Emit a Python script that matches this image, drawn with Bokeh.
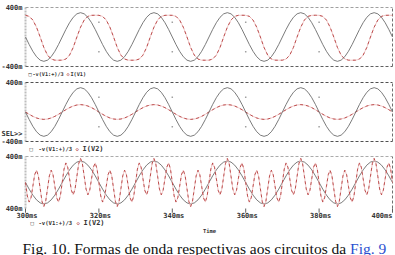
from bokeh.plotting import figure
from bokeh.models import Range1d, Label
from bokeh.embed import file_html
from bokeh.resources import INLINE
from bokeh.core.properties import value

W, H = 395, 255

# ---------------- data ----------------
t_ms = list(range(300, 401))                 # 1 ms sampling
t3_ms = [300 + 0.5 * j for j in range(201)]  # 0.5 ms sampling (panel 3 current)

v1_over3 = [  # -v(V1:+)/3, same in all three panels
    0, -0.102, -0.194, -0.267, -0.314, -0.330, -0.314, -0.267, -0.194, -0.102, 0, 0.102, 0.194, 0.267, 0.314, 0.330, 0.314, 0.267, 0.194, 0.102,
    0, -0.102, -0.194, -0.267, -0.314, -0.330, -0.314, -0.267, -0.194, -0.102, 0, 0.102, 0.194, 0.267, 0.314, 0.330, 0.314, 0.267, 0.194, 0.102,
    0, -0.102, -0.194, -0.267, -0.314, -0.330, -0.314, -0.267, -0.194, -0.102, 0, 0.102, 0.194, 0.267, 0.314, 0.330, 0.314, 0.267, 0.194, 0.102,
    0, -0.102, -0.194, -0.267, -0.314, -0.330, -0.314, -0.267, -0.194, -0.102, 0, 0.102, 0.194, 0.267, 0.314, 0.330, 0.314, 0.267, 0.194, 0.102,
    0, -0.102, -0.194, -0.267, -0.314, -0.330, -0.314, -0.267, -0.194, -0.102, 0, 0.102, 0.194, 0.267, 0.314, 0.330, 0.314, 0.267, 0.194, 0.102,
    0,
]

i_v1 = [  # I(V1), panel 1
    0.294, 0.280, 0.230, 0.133, 0, -0.142, -0.246, -0.299, -0.314, -0.315, -0.314, -0.299, -0.246, -0.142, 0, 0.133, 0.230, 0.280, 0.294, 0.295,
    0.294, 0.280, 0.230, 0.133, 0, -0.142, -0.246, -0.299, -0.314, -0.315, -0.314, -0.299, -0.246, -0.142, 0, 0.133, 0.230, 0.280, 0.294, 0.295,
    0.294, 0.280, 0.230, 0.133, 0, -0.142, -0.246, -0.299, -0.314, -0.315, -0.314, -0.299, -0.246, -0.142, 0, 0.133, 0.230, 0.280, 0.294, 0.295,
    0.294, 0.280, 0.230, 0.133, 0, -0.142, -0.246, -0.299, -0.314, -0.315, -0.314, -0.299, -0.246, -0.142, 0, 0.133, 0.230, 0.280, 0.294, 0.295,
    0.294, 0.280, 0.230, 0.133, 0, -0.142, -0.246, -0.299, -0.314, -0.315, -0.314, -0.299, -0.246, -0.142, 0, 0.133, 0.230, 0.280, 0.294, 0.295,
    0.294,
]

i_v2_p2 = [  # I(V2), panel 2
    0, -0.031, -0.059, -0.081, -0.095, -0.100, -0.095, -0.081, -0.059, -0.031, 0, 0.031, 0.059, 0.081, 0.095, 0.100, 0.095, 0.081, 0.059, 0.031,
    0, -0.031, -0.059, -0.081, -0.095, -0.100, -0.095, -0.081, -0.059, -0.031, 0, 0.031, 0.059, 0.081, 0.095, 0.100, 0.095, 0.081, 0.059, 0.031,
    0, -0.031, -0.059, -0.081, -0.095, -0.100, -0.095, -0.081, -0.059, -0.031, 0, 0.031, 0.059, 0.081, 0.095, 0.100, 0.095, 0.081, 0.059, 0.031,
    0, -0.031, -0.059, -0.081, -0.095, -0.100, -0.095, -0.081, -0.059, -0.031, 0, 0.031, 0.059, 0.081, 0.095, 0.100, 0.095, 0.081, 0.059, 0.031,
    0, -0.031, -0.059, -0.081, -0.095, -0.100, -0.095, -0.081, -0.059, -0.031, 0, 0.031, 0.059, 0.081, 0.095, 0.100, 0.095, 0.081, 0.059, 0.031,
    0,
]

i_v2_p3 = [  # I(V2), panel 3 (0.5 ms samples)
    0, -0.207, -0.301, -0.236, -0.059, 0.120, 0.189, 0.102, -0.095, -0.290, -0.370, -0.290, -0.095, 0.102, 0.189, 0.120, -0.059, -0.236, -0.301, -0.207,
    0, 0.207, 0.301, 0.236, 0.059, -0.120, -0.189, -0.102, 0.095, 0.290, 0.370, 0.290, 0.095, -0.102, -0.189, -0.120, 0.059, 0.236, 0.301, 0.207,
    0, -0.207, -0.301, -0.236, -0.059, 0.120, 0.189, 0.102, -0.095, -0.290, -0.370, -0.290, -0.095, 0.102, 0.189, 0.120, -0.059, -0.236, -0.301, -0.207,
    0, 0.207, 0.301, 0.236, 0.059, -0.120, -0.189, -0.102, 0.095, 0.290, 0.370, 0.290, 0.095, -0.102, -0.189, -0.120, 0.059, 0.236, 0.301, 0.207,
    0, -0.207, -0.301, -0.236, -0.059, 0.120, 0.189, 0.102, -0.095, -0.290, -0.370, -0.290, -0.095, 0.102, 0.189, 0.120, -0.059, -0.236, -0.301, -0.207,
    0, 0.207, 0.301, 0.236, 0.059, -0.120, -0.189, -0.102, 0.095, 0.290, 0.370, 0.290, 0.095, -0.102, -0.189, -0.120, 0.059, 0.236, 0.301, 0.207,
    0, -0.207, -0.301, -0.236, -0.059, 0.120, 0.189, 0.102, -0.095, -0.290, -0.370, -0.290, -0.095, 0.102, 0.189, 0.120, -0.059, -0.236, -0.301, -0.207,
    0, 0.207, 0.301, 0.236, 0.059, -0.120, -0.189, -0.102, 0.095, 0.290, 0.370, 0.290, 0.095, -0.102, -0.189, -0.120, 0.059, 0.236, 0.301, 0.207,
    0, -0.207, -0.301, -0.236, -0.059, 0.120, 0.189, 0.102, -0.095, -0.290, -0.370, -0.290, -0.095, 0.102, 0.189, 0.120, -0.059, -0.236, -0.301, -0.207,
    0, 0.207, 0.301, 0.236, 0.059, -0.120, -0.189, -0.102, 0.095, 0.290, 0.370, 0.290, 0.095, -0.102, -0.189, -0.120, 0.059, 0.236, 0.301, 0.207,
    0,
]

x_ticks = [300, 320, 340, 360, 380, 400]
x_tick_labels = ["300ms", "320ms", "340ms", "360ms", "380ms", "400ms"]
grid_ticks = [320, 340, 360, 380]
y_ticks = [-0.4, 0.4]
y_tick_labels = {"p1": ["-400m", "400m"], "p2": ["-400m", "400m"], "p3": ["400m", "400m"]}
grid_levels = [-0.2, 0.2]

legend_rows = [
    ("-v(V1:+)/3", "I(V1)"),
    ("-v(V1:+)/3", "I(V2)"),
    ("-v(V1:+)/3", "I(V2)"),
]
x_title = "Time"
caption_main = "Fig. 10. Formas de onda respectivas aos circuitos da "
caption_link = "Fig. 9"

# ---------------- layout (pixels) ----------------
X0_PX, X1_PX = 25, 392
bands = {"p1": (7, 66), "p2": (82, 141), "p3": (156, 208)}

scale_x = (X1_PX - X0_PX) / (x_ticks[-1] - x_ticks[0])
x_rng = Range1d(x_ticks[0] - X0_PX / scale_x, x_ticks[-1] + (W - X1_PX) / scale_x)


def band_range(top, bot, lo=y_ticks[0], hi=y_ticks[1]):
    s = (bot - top) / (hi - lo)
    return Range1d(lo - (H - bot) / s, hi + top / s)


p = figure(width=W, height=H, x_range=x_rng, y_range=Range1d(H, 0),
           x_axis_type=None, y_axis_type=None, min_border=0,
           toolbar_location=None, output_backend="svg",
           styles={"position": "absolute", "left": "0px", "top": "0px"})
p.grid.visible = False
p.outline_line_color = None
p.background_fill_color = "white"
p.border_fill_color = "white"
p.extra_y_ranges = {k: band_range(*v) for k, v in bands.items()}
p.extra_x_ranges = {"px": Range1d(0, W)}

MONO_NAME = "DejaVu Sans Mono"
MONO = value(MONO_NAME)
BLACK = "#636363"
RED_DARK = "#b33838"
RED_LIGHT = "#ecbcbc"
LABEL_C = "#333333"
LW = 0.85

border_cols = {"p1": ("#a0a0a0", "#606060"), "p2": ("#505050", "#505050"), "p3": ("#ababab", None)}

for name in ["p1", "p2", "p3"]:
    top_c, bot_c = border_cols[name]
    # left axis (dotted grey)
    p.segment(x0=[x_ticks[0]], y0=[y_ticks[0]], x1=[x_ticks[0]], y1=[y_ticks[1]],
              y_range_name=name, line_color="#bdbdbd", line_width=2, line_dash="2 1")
    # right border
    p.segment(x0=[x_ticks[-1]], y0=[y_ticks[0]], x1=[x_ticks[-1]], y1=[y_ticks[1]],
              y_range_name=name, line_color="#707070", line_width=1, line_dash="3 2")
    p.segment(x0=[x_ticks[0]], y0=[y_ticks[1]], x1=[x_ticks[-1]], y1=[y_ticks[1]],
              y_range_name=name, line_color=top_c, line_width=1, line_dash="3 2")
    if bot_c:
        p.segment(x0=[x_ticks[0]], y0=[y_ticks[0]], x1=[x_ticks[-1]], y1=[y_ticks[0]],
                  y_range_name=name, line_color=bot_c, line_width=1, line_dash="3 2")
    if name != "p3":
        gx = [g for g in grid_ticks for _ in grid_levels]
        gy = [lv for _ in grid_ticks for lv in grid_levels]
        p.scatter(gx, gy, y_range_name=name, size=1.5, marker="square",
                  color="#a0a0a0", line_color=None)
    # y tick labels
    for yv, yl in zip(y_ticks, y_tick_labels[name]):
        p.add_layout(Label(x=22, y=yv, x_range_name="px", y_range_name=name, text=yl,
                           text_align="right", text_baseline="middle",
                           text_font=MONO_NAME, text_font_size="7px", text_font_style="bold",
                           text_color=LABEL_C))

# curves
p.line(t_ms, i_v1, y_range_name="p1", line_color=RED_LIGHT, line_width=LW)
p.line(t_ms, i_v1, y_range_name="p1", line_color=RED_DARK, line_width=LW, line_dash="3 3")
p.line(t_ms, v1_over3, y_range_name="p1", line_color=BLACK, line_width=LW)

p.line(t_ms, i_v2_p2, y_range_name="p2", line_color=RED_LIGHT, line_width=LW)
p.line(t_ms, i_v2_p2, y_range_name="p2", line_color=RED_DARK, line_width=LW, line_dash="3 3")
p.line(t_ms, v1_over3, y_range_name="p2", line_color=BLACK, line_width=LW)

p.line(t_ms, v1_over3, y_range_name="p3", line_color=BLACK, line_width=LW)
p.line(t3_ms, i_v2_p3, y_range_name="p3", line_color=RED_LIGHT, line_width=LW)
p.line(t3_ms, i_v2_p3, y_range_name="p3", line_color=RED_DARK, line_width=LW, line_dash="3 3")

# x ticks and labels (below panel 3)
p.segment(x0=x_ticks, y0=[y_ticks[0]] * len(x_ticks), x1=x_ticks, y1=[y_ticks[0] - 0.065] * len(x_ticks),
          y_range_name="p3", line_color="#606060", line_width=1)
p.text(x=x_ticks[:-1], y=[y_ticks[0]] * (len(x_ticks) - 1), text=x_tick_labels[:-1],
       y_range_name="p3", x_offset=1.5, y_offset=7.5, text_align="center", text_baseline="middle",
       text_font=MONO, text_font_size="7px", text_font_style="bold", text_color=LABEL_C)
p.text(x=x_ticks[-1:], y=[y_ticks[0]], text=x_tick_labels[-1:],
       y_range_name="p3", x_offset=0, y_offset=7.5, text_align="right", text_baseline="middle",
       text_font=MONO, text_font_size="7px", text_font_style="bold", text_color=LABEL_C)

# "SEL>>" marker of panel 2
p.add_layout(Label(x=22, y=133, x_range_name="px", text="SEL>>", text_align="right",
                   text_baseline="middle", text_font=MONO_NAME, text_font_size="7px",
                   text_font_style="bold", text_color=LABEL_C))

# legend rows
legend_geo = [  # (y, x_square, x_text, x_diamond, x_name, size_expr, size_name)
    (73.5, 28, 32, 66, 70, 5.2, 5.2),
    (148, 29, 38, 75, 82, 5.6, 7),
    (222, 30, 38, 76, 83, 5.6, 7),
]
for (expr, name), (ly, xs, xt, xd, xn, fs, fn) in zip(legend_rows, legend_geo):
    common = dict(x_range_name="px", y=ly, text_baseline="middle", text_font=MONO_NAME,
                  text_font_style="bold")
    p.add_layout(Label(x=xs, text="\u25a1", text_color=LABEL_C, text_font_size=f"{fs}px", **common))
    p.add_layout(Label(x=xt, text=expr, text_color=LABEL_C, text_font_size=f"{fs}px", **common))
    p.add_layout(Label(x=xd, text="\u25c7", text_color=RED_DARK, text_font_size=f"{fs}px", **common))
    p.add_layout(Label(x=xn, text=name, text_color=LABEL_C, text_font_size=f"{fn}px", **common))

p.add_layout(Label(x=209, y=230.5, x_range_name="px", text=x_title, text_align="center",
                   text_baseline="middle", text_font=MONO_NAME, text_font_size="5.5px",
                   text_font_style="bold", text_color=LABEL_C))

# caption
CAP_FS = 15.5
cap_x = 22
cap_y = 247.5
p.add_layout(Label(x=cap_x, y=cap_y, x_range_name="px", text=caption_main, text_align="left",
                   text_baseline="alphabetic", text_font="Liberation Serif",
                   text_font_size=f"{CAP_FS}px", text_color="#111111"))
p.add_layout(Label(x=cap_x + 21.136 * CAP_FS, y=cap_y, x_range_name="px", text=caption_link,
                   text_align="left", text_baseline="alphabetic",
                   text_font="Liberation Serif", text_font_size=f"{CAP_FS}px",
                   text_color="#2b4fcf"))

open("out.html", "w").write(file_html(p, INLINE))
